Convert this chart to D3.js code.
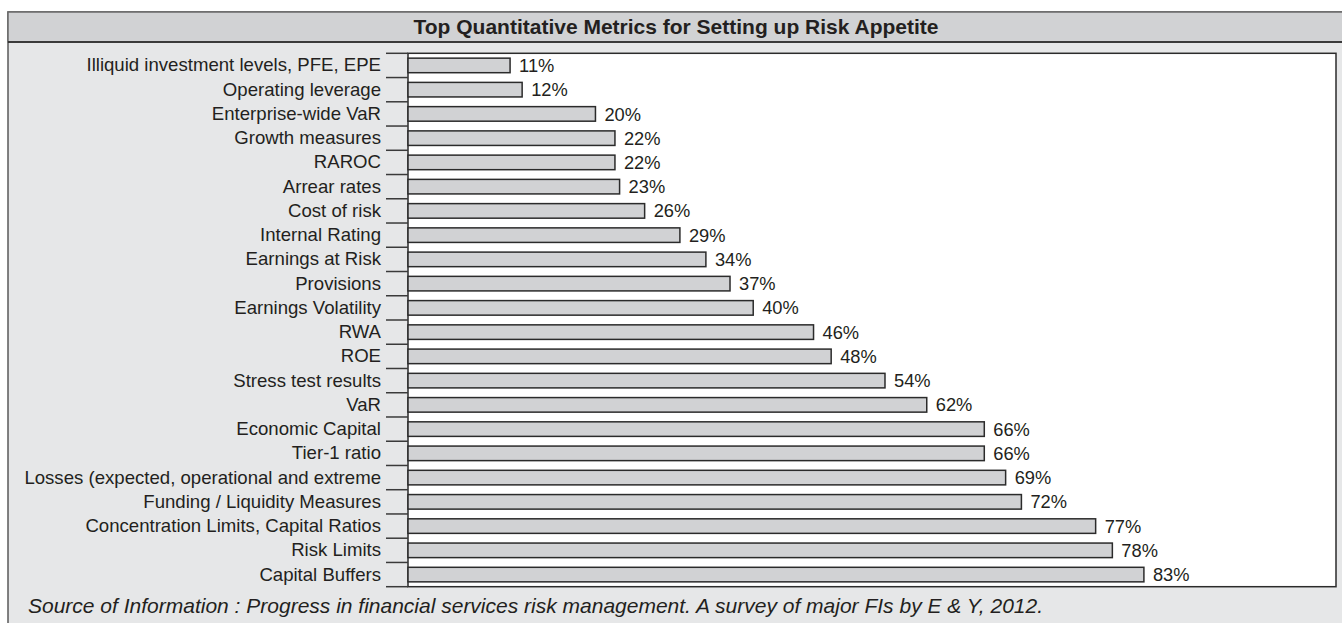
<!DOCTYPE html>
<meta charset="utf-8">
<style>
  body { margin: 0; background: #fff; }
  text { font-family: "Liberation Sans", Arial, sans-serif; fill: #231f20; }
  .title { font-size: 21px; font-weight: bold; text-anchor: middle; }
  .cat text { font-size: 18.6px; }
  .pct { font-size: 18.3px; }
  .source { font-size: 21px; font-style: italic; }
  .bar { fill: #d1d2d4; stroke: #2b2b2b; stroke-width: 1.5px; }
</style>
<body>
<svg width="1342" height="623"></svg>
<script src="https://d3js.org/d3.v7.min.js"></script>
<script>

var categories = ["Illiquid investment levels, PFE, EPE", "Operating leverage", "Enterprise-wide VaR",
  "Growth measures", "RAROC", "Arrear rates", "Cost of risk", "Internal Rating", "Earnings at Risk",
  "Provisions", "Earnings Volatility", "RWA", "ROE", "Stress test results", "VaR", "Economic Capital",
  "Tier-1 ratio", "Losses (expected, operational and extreme", "Funding / Liquidity Measures",
  "Concentration Limits, Capital Ratios", "Risk Limits", "Capital Buffers"];

// printed percentages
var values = [11, 12, 20, 22, 22, 23, 26, 29, 34, 37, 40, 46, 48, 54, 62, 66, 66, 69, 72, 77, 78, 83];

// bar lengths as drawn in the original (not strictly proportional to the printed figures)
var lengths = [11.0, 12.3, 20.2, 22.3, 22.3, 22.8, 25.5, 29.3, 32.1, 34.7, 37.2, 43.7, 45.6, 51.4,
  55.9, 62.1, 62.1, 64.4, 66.1, 74.1, 75.9, 79.3];

var title = "Top Quantitative Metrics for Setting up Risk Appetite";
var source = "Source of Information : Progress in financial services risk management. A survey of major FIs by E & Y, 2012.";

var svg = d3.select("svg"),
    width = +svg.attr("width"),
    height = +svg.attr("height");

var plot = {left: 408, right: 1336, top: 53.3, bottom: 586.7};

// outer panel
svg.append("rect")
    .attr("x", 8).attr("y", 12)
    .attr("width", width + 10).attr("height", height + 10)
    .attr("fill", "#e6e7e8")
    .attr("stroke", "#5a5a5a").attr("stroke-width", 1.5);

svg.append("rect")
    .attr("x", 8).attr("y", 12)
    .attr("width", width + 10).attr("height", 30)
    .attr("fill", "#d1d2d4")
    .attr("stroke", "#6a6a6a").attr("stroke-width", 1.5);

svg.append("line")
    .attr("x1", 8).attr("x2", width)
    .attr("y1", 42).attr("y2", 42)
    .attr("stroke", "#222").attr("stroke-width", 1.5);

svg.append("text")
    .attr("class", "title")
    .attr("x", 676).attr("y", 34)
    .text(title);

var x = d3.scaleLinear()
    .domain([0, 100])
    .range([plot.left, plot.right]);

var y = d3.scaleBand()
    .domain(categories)
    .range([plot.top, plot.bottom])
    .paddingInner(0.4)
    .paddingOuter(0.2);

var gap = y.step() * 0.2;

svg.append("rect")
    .attr("x", plot.left).attr("y", plot.top)
    .attr("width", plot.right - plot.left).attr("height", plot.bottom - plot.top)
    .attr("fill", "#fff")
    .attr("stroke", "#2b2b2b").attr("stroke-width", 1.5);

// row boundary ticks
var bounds = categories.map(function(d) { return y(d) - gap; }).concat([plot.bottom]);
svg.append("g")
    .selectAll("line")
    .data(bounds)
    .enter().append("line")
      .attr("x1", 386).attr("x2", plot.left)
      .attr("y1", function(d) { return d; })
      .attr("y2", function(d) { return d; })
      .attr("stroke", "#3a3a3a").attr("stroke-width", 1.5);

var axis = svg.append("g")
    .attr("class", "cat")
    .attr("transform", "translate(" + plot.left + ",0)")
    .call(d3.axisLeft(y).tickSize(0).tickPadding(27));
axis.select(".domain").remove();

svg.append("g")
    .selectAll("rect")
    .data(categories)
    .enter().append("rect")
      .attr("class", "bar")
      .attr("x", x(0))
      .attr("y", function(d) { return y(d); })
      .attr("width", function(d, i) { return x(lengths[i]) - x(0); })
      .attr("height", y.bandwidth());

svg.append("g")
    .selectAll("text")
    .data(categories)
    .enter().append("text")
      .attr("class", "pct")
      .attr("x", function(d, i) { return x(lengths[i]) + 9; })
      .attr("y", function(d) { return y(d) + y.bandwidth() / 2; })
      .attr("dy", "0.36em")
      .text(function(d, i) { return values[i] + "%"; });

svg.append("text")
    .attr("class", "source")
    .attr("x", 28).attr("y", 613)
    .text(source);

</script>
</body>
